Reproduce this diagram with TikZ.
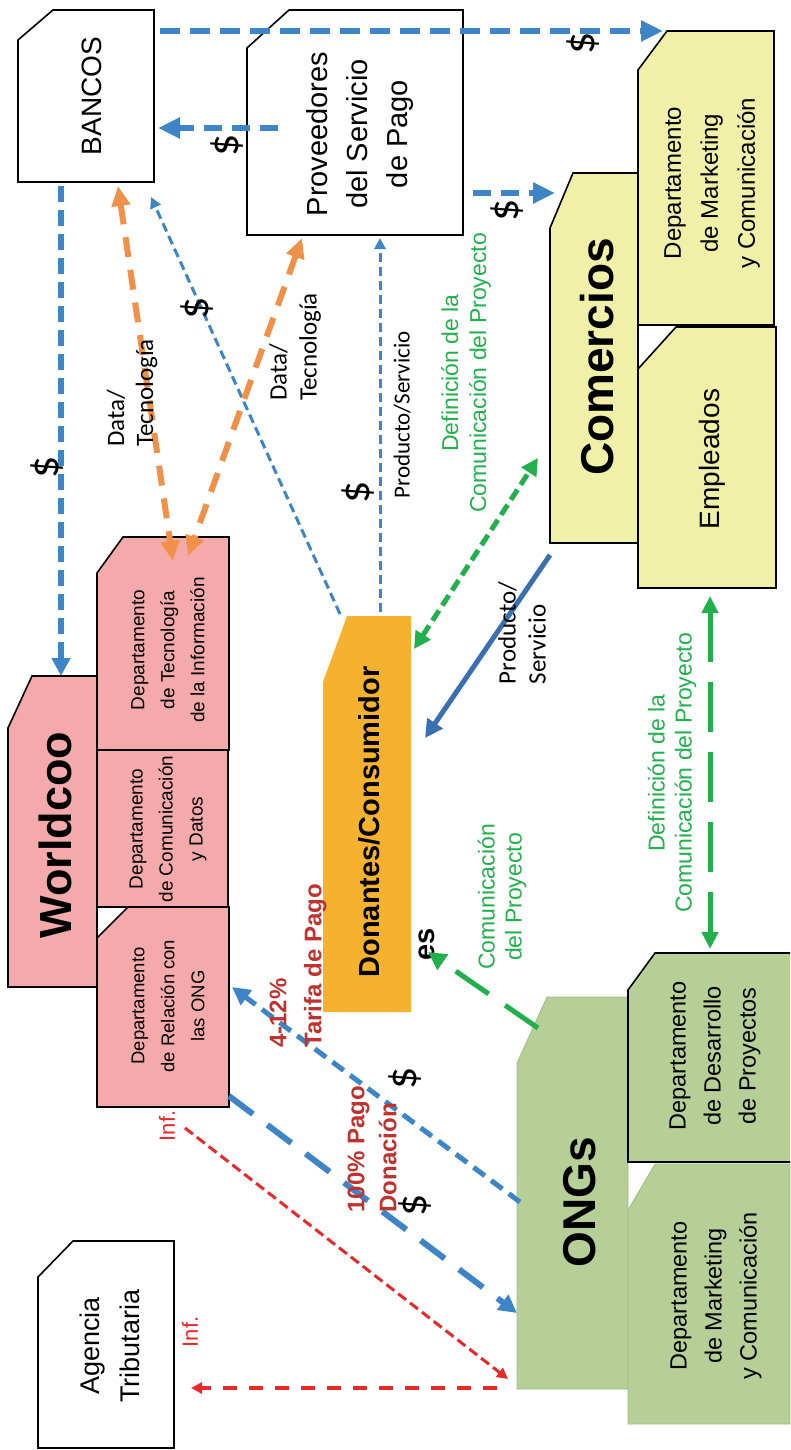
\documentclass[tikz,border=0pt]{standalone}
\usepackage{fontspec}
\setmainfont{Liberation Sans}
\newfontfamily\calfont{Carlito}
\usetikzlibrary{arrows.meta}
\definecolor{bl}{RGB}{61,133,198}
\definecolor{dbl}{RGB}{58,112,178}
\definecolor{org}{RGB}{241,145,73}
\definecolor{grn}{RGB}{34,176,76}
\definecolor{rd}{RGB}{232,40,43}
\definecolor{drd}{RGB}{192,50,45}
\definecolor{pinkf}{RGB}{244,170,170}
\definecolor{yelf}{RGB}{240,240,168}
\definecolor{orf}{RGB}{246,178,46}
\definecolor{grf}{RGB}{182,207,151}
\definecolor{grl}{RGB}{160,190,130}
\tikzset{
  boxline/.style={draw=black,line width=1.6pt},
  lbl/.style={rotate=90,align=center,inner sep=0pt},
  dol/.style={rotate=90,inner sep=0pt,font=\calfont\fontsize{44}{44}\selectfont},
  tipL/.style={-{Triangle[length=22pt,width=20pt]}},
  tipM/.style={-{Triangle[length=18pt,width=18pt]}},
  tipS/.style={-{Triangle[length=11pt,width=11pt]}},
}
\begin{document}
\begin{tikzpicture}[x=1pt,y=-1pt]
\useasboundingbox (0,0) rectangle (790,1450);
\fill[white] (0,0) rectangle (790,1450);

% ---------- boxes ----------
% BANCOS
\draw[boxline,fill=white] (18,40) -- (53,10) -- (154,10) -- (154,182) -- (18,182) -- cycle;
\node[lbl,font=\fontsize{28}{34}\selectfont] (bancos) at (92,96) {BANCOS};
% Proveedores
\draw[boxline,fill=white] (247,48) -- (289,10) -- (463,10) -- (463,235) -- (247,235) -- cycle;
\node[lbl,font=\fontsize{29}{40}\selectfont] (prov) at (360,134) {Proveedores\\del Servicio\\de Pago};
% Comercios
\draw[boxline,fill=yelf] (550,228) -- (573,173) -- (638,173) -- (638,543) -- (550,543) -- cycle;
\node[lbl,font=\bfseries\fontsize{46}{50}\selectfont] (comercios) at (597,357) {Comercios};
\draw[boxline,fill=yelf] (638,70) -- (667,31) -- (774,31) -- (774,325) -- (638,325) -- cycle;
\node[lbl,font=\fontsize{24}{37}\selectfont] (cmkt) at (712,183) {Departamento\\de Marketing\\y Comunicación};
\draw[boxline,fill=yelf] (638,369) -- (676,327) -- (776,327) -- (776,588) -- (638,588) -- cycle;
\node[lbl,font=\fontsize{28}{34}\selectfont] (empleados) at (712,459) {Empleados};
% Worldcoo
\draw[boxline,fill=pinkf] (8,728) -- (32,676) -- (97,676) -- (97,987) -- (8,987) -- cycle;
\node[lbl,font=\bfseries\fontsize{45}{50}\selectfont] (worldcoo) at (55,835) {Worldcoo};
\draw[boxline,fill=pinkf] (97,573) -- (123,537) -- (229,537) -- (229,750) -- (97,750) -- cycle;
\node[lbl,font=\fontsize{19}{30}\selectfont] (wtec) at (168,650) {Departamento\\de Tecnología\\de la Información};
\draw[boxline,fill=pinkf] (97,750) rectangle (228,907);
\node[lbl,font=\fontsize{19}{30}\selectfont] (wcom) at (168,829) {Departamento\\de Comunicación\\y Datos};
\draw[boxline,fill=pinkf] (97,938) -- (128,907) -- (229,907) -- (229,1107) -- (97,1107) -- cycle;
\node[lbl,font=\fontsize{18.5}{30}\selectfont] (wrel) at (168,1006) {Departamento\\de Relación con\\las ONG};
% Donantes
\fill[orf] (323,682) -- (347,616) -- (411,616) -- (411,1012) -- (323,1012) -- cycle;
\node[lbl,font=\bfseries\fontsize{29}{34}\selectfont] (donantes) at (369,822) {Donantes/Consumidor};
\node[lbl,font=\bfseries\fontsize{29}{34}\selectfont] (es) at (427,944) {es};
% ONGs
\filldraw[fill=grf,draw=grl,line width=0.8pt] (517,1063) -- (547,997) -- (628,997) -- (628,1389) -- (517,1389) -- cycle;
\node[lbl,font=\bfseries\fontsize{46}{50}\selectfont] (ongs) at (580,1202) {ONGs};
\fill[grf] (628,990) -- (655,953) -- (790,953) -- (790,1162) -- (628,1162) -- cycle;
\draw[boxline] (790,953) -- (655,953) -- (628,990) -- (628,1162) -- (790,1162);
\node[lbl,font=\fontsize{23.5}{35}\selectfont] (odes) at (715,1056) {Departamento\\de Desarrollo\\de Proyectos};
\filldraw[fill=grf,draw=grl,line width=0.8pt] (628,1210) -- (655,1164) -- (790,1164) -- (790,1424) -- (628,1424) -- cycle;
\node[lbl,font=\fontsize{23.5}{35}\selectfont] (omkt) at (716,1296) {Departamento\\de Marketing\\y Comunicación};
% Agencia
\draw[boxline,fill=white] (38,1277) -- (73,1241) -- (174,1241) -- (174,1448) -- (38,1448) -- cycle;
\node[lbl,font=\fontsize{27}{40}\selectfont] (agencia) at (110,1346) {Agencia\\Tributaria};

% ---------- connector end points ----------
\coordinate (bTop) at (160,31);   \coordinate (cmTop) at (663,31);
\coordinate (pL) at (278,128);    \coordinate (bR) at (158,128);
\coordinate (pR) at (473,193);    \coordinate (cL) at (555,193);
\coordinate (bB) at (61,186);     \coordinate (wT) at (61,676);
\coordinate (dTL) at (340,614);   \coordinate (bBR) at (151,197);
\coordinate (bBo) at (118,186);   \coordinate (tec1) at (173,561);
\coordinate (pBo) at (302,238);   \coordinate (tec2) at (188,556);
\coordinate (dT) at (380,612);    \coordinate (pB) at (380,238);
\coordinate (dR) at (414,649);    \coordinate (cB) at (538,458);
\coordinate (cBL) at (550,555);   \coordinate (dRm) at (425,738);
\coordinate (eB) at (710,596);    \coordinate (oT) at (710,949);
\coordinate (oL) at (538,1028);   \coordinate (dBR) at (428,952);
\coordinate (oL2) at (520,1202);  \coordinate (wrR) at (232,987);
\coordinate (wrR2) at (229,1096); \coordinate (oL3) at (517,1313);
\coordinate (inf1) at (185,1128); \coordinate (oL4) at (508,1379);
\coordinate (oL5) at (497,1388);  \coordinate (agR) at (191,1388);

% ---------- connectors ----------
\draw[bl,line width=6pt,dash pattern=on 20pt off 10pt,tipL] (bTop) -- (cmTop);
\draw[bl,line width=6pt,dash pattern=on 18pt off 10pt,tipL] (pL) -- (bR);
\draw[bl,line width=6pt,dash pattern=on 18pt off 10pt,tipL] (pR) -- (cL);
\draw[bl,line width=5.5pt,dash pattern=on 16pt off 8pt,tipM] (bB) -- (wT);
\draw[bl,line width=3pt,dash pattern=on 9pt off 5pt,tipS] (dTL) -- (bBR);
\draw[bl,line width=3pt,dash pattern=on 9pt off 5pt,tipS] (dT) -- (pB);
\draw[org,line width=6pt,dash pattern=on 20pt off 13pt,{Triangle[length=20pt,width=18pt]}-{Triangle[length=20pt,width=18pt]}] (bBo) -- (tec1);
\draw[org,line width=6pt,dash pattern=on 20pt off 13pt,{Triangle[length=20pt,width=18pt]}-{Triangle[length=20pt,width=18pt]}] (pBo) -- (tec2);
\draw[grn,line width=5pt,dash pattern=on 12pt off 6pt,{Triangle[length=17pt,width=17pt]}-{Triangle[length=17pt,width=17pt]}] (dR) -- (cB);
\draw[dbl,line width=5pt,tipM] (cBL) -- (dRm);
\draw[grn,line width=5pt,dash pattern=on 50pt off 20pt,{Triangle[length=17pt,width=16pt]}-{Triangle[length=17pt,width=16pt]}] (eB) -- (oT);
\draw[grn,line width=5pt,dash pattern=on 40pt off 20pt,tipM] (oL) -- (dBR);
\draw[bl,line width=5pt,dash pattern=on 14pt off 8pt,tipM] (oL2) -- (wrR);
\draw[bl,line width=6pt,dash pattern=on 30pt off 18pt,tipM] (wrR2) -- (oL3);
\draw[rd,line width=3pt,dash pattern=on 10pt off 5pt,tipS] (inf1) -- (oL4);
\draw[rd,line width=4pt,dash pattern=on 14pt off 12pt,tipS] (oL5) -- (agR);

% ---------- labels ----------
\node[dol] (s1) at (583,43) {\$};
\node[dol] (s2) at (227,145) {\$};
\node[dol] (s3) at (507,210) {\$};
\node[dol] (s4) at (47,467) {\$};
\node[dol] (s5) at (197,308) {\$};
\node[dol] (s6) at (358,492) {\$};
\node[dol] (s7) at (405,1078) {\$};
\node[dol] (s8) at (415,1205) {\$};
\node[rotate=90,align=left,inner sep=0pt,font=\calfont\fontsize{25}{29}\selectfont] (dt1) at (132,393) {Data/\\Tecnología};
\node[rotate=90,align=left,inner sep=0pt,font=\calfont\fontsize{25}{30}\selectfont] (dt2) at (295,347) {Data/\\Tecnología};
\node[rotate=90,inner sep=0pt,font=\calfont\fontsize{23}{28}\selectfont] (ps1) at (402,415) {Producto/Servicio};
\node[rotate=90,align=left,inner sep=0pt,font=\calfont\fontsize{25}{30}\selectfont] (ps2) at (522,633) {Producto/\\Servicio};
\node[lbl,text=grn,font=\fontsize{23}{28}\selectfont] (def1) at (466,373) {Definición de la\\Comunicación del Proyecto};
\node[lbl,text=grn,font=\fontsize{23}{27}\selectfont] (def2) at (672,773) {Definición de la\\Comunicación del Proyecto};
\node[lbl,text=grn,font=\fontsize{23}{27}\selectfont] (com) at (502,897) {Comunicación\\del Proyecto};
\node[rotate=90,align=left,inner sep=0pt,text=drd,font=\bfseries\fontsize{24}{35}\selectfont] (tar) at (298,966) {4-12\%\\Tarifa de Pago};
\node[rotate=90,align=left,inner sep=0pt,text=drd,font=\bfseries\fontsize{24}{32}\selectfont] (pag) at (372,1149) {100\% Pago\\Donación};
\node[rotate=90,inner sep=0pt,text=rd,font=\fontsize{22}{26}\selectfont] (i1) at (167,1126) {Inf.};
\node[rotate=90,inner sep=0pt,text=rd,font=\fontsize{22}{26}\selectfont] (i2) at (190,1332) {Inf.};
\end{tikzpicture}
\end{document}
